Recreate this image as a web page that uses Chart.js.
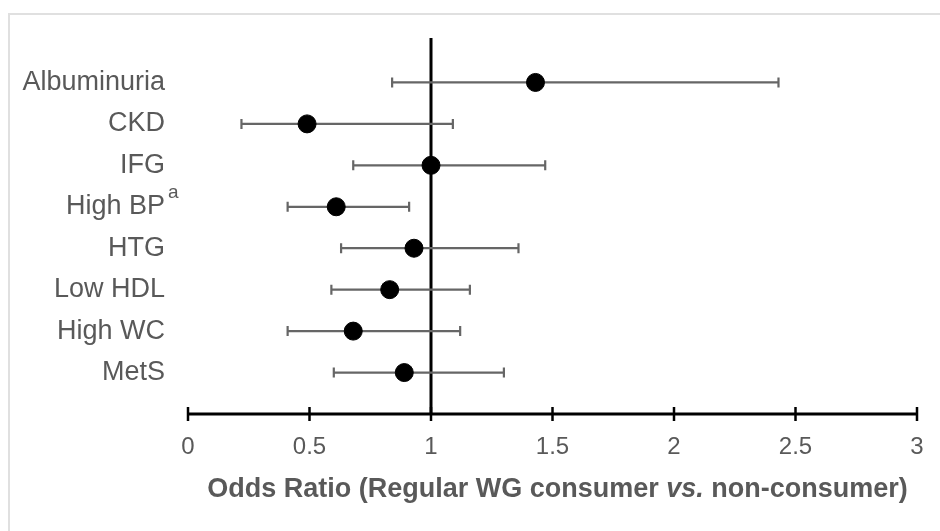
<!DOCTYPE html>
<html>
<head>
<meta charset="utf-8">
<script src="https://cdn.jsdelivr.net/npm/chart.js@4/dist/chart.umd.min.js"></script>
<style>
  body { margin: 0; background: #fff; }
  #wrap { position: relative; width: 940px; height: 531px; }
  #frame { position: absolute; left: 8px; top: 13px; right: 0; bottom: 0;
           border-top: 2px solid #e0e0e0; border-left: 2px solid #e0e0e0; }
  canvas { position: absolute; left: 0; top: 0; }
</style>
</head>
<body>
<div id="wrap">
  <div id="frame"></div>
  <canvas id="forest" width="940" height="531"></canvas>
</div>
<script>
// Outcomes, top to bottom
const outcomes = ['Albuminuria', 'CKD', 'IFG', 'High BP', 'HTG', 'Low HDL', 'High WC', 'MetS'];
// Odds ratios and 95% CI
const oddsRatio = [1.43, 0.49, 1.00, 0.61, 0.93, 0.83, 0.68, 0.89];
const ciLow     = [0.84, 0.22, 0.68, 0.41, 0.63, 0.59, 0.41, 0.60];
const ciHigh    = [2.43, 1.09, 1.47, 0.91, 1.36, 1.16, 1.12, 1.30];
const xTicks    = [0, 0.5, 1, 1.5, 2, 2.5, 3];

const textGray = '#595959';
const fontFamily = '"Liberation Sans", Arial, sans-serif';

// Error bars, reference line, axis with crossing ticks, superscript and axis title
const forestPlugin = {
    id: 'forestPlugin',
    beforeDatasetsDraw(chart) {
        const ctx = chart.ctx;
        const x = chart.scales.x, y = chart.scales.y;
        const area = chart.chartArea;
        ctx.save();

        // vertical line at OR = 1
        ctx.strokeStyle = '#000';
        ctx.lineWidth = 3;
        ctx.beginPath();
        ctx.moveTo(x.getPixelForValue(1), area.top - 3);
        ctx.lineTo(x.getPixelForValue(1), area.bottom);
        ctx.stroke();

        // confidence intervals
        ctx.strokeStyle = '#666';
        ctx.lineWidth = 2.2;
        outcomes.forEach((name, i) => {
            const py = y.getPixelForValue(i);
            const x1 = x.getPixelForValue(ciLow[i]);
            const x2 = x.getPixelForValue(ciHigh[i]);
            ctx.beginPath();
            ctx.moveTo(x1, py); ctx.lineTo(x2, py);
            ctx.moveTo(x1, py - 5); ctx.lineTo(x1, py + 5);
            ctx.moveTo(x2, py - 5); ctx.lineTo(x2, py + 5);
            ctx.stroke();
        });

        // x axis line with ticks crossing it
        const ay = area.bottom;
        ctx.strokeStyle = '#000';
        ctx.lineWidth = 3;
        ctx.beginPath();
        ctx.moveTo(x.getPixelForValue(xTicks[0]), ay);
        ctx.lineTo(x.getPixelForValue(xTicks[xTicks.length - 1]), ay);
        ctx.stroke();
        ctx.lineWidth = 2.5;
        xTicks.forEach(t => {
            const px = x.getPixelForValue(t);
            ctx.beginPath();
            ctx.moveTo(px, ay - 7);
            ctx.lineTo(px, ay + 7);
            ctx.stroke();
        });
        ctx.restore();
    },
    afterDraw(chart) {
        const ctx = chart.ctx;
        const y = chart.scales.y;
        const area = chart.chartArea;
        ctx.save();
        ctx.fillStyle = textGray;

        // superscript "a" after High BP
        const bpIndex = outcomes.indexOf('High BP');
        const labelRight = area.left - 23;
        ctx.font = '19px ' + fontFamily;
        ctx.textAlign = 'left';
        ctx.textBaseline = 'alphabetic';
        ctx.fillText('a', labelRight + 3, y.getPixelForValue(bpIndex) - 9);

        // axis title, with italic "vs."
        const parts = [
            { t: 'Odds Ratio (Regular WG consumer ', f: 'bold 27px ' + fontFamily },
            { t: 'vs.', f: 'italic bold 27px ' + fontFamily },
            { t: ' non-consumer)', f: 'bold 27px ' + fontFamily }
        ];
        let total = 0;
        parts.forEach(p => { ctx.font = p.f; p.w = ctx.measureText(p.t).width; total += p.w; });
        let cx = (area.left + area.right) / 2 + 5 - total / 2;
        const ty = 497;
        parts.forEach(p => {
            ctx.font = p.f;
            ctx.fillText(p.t, cx, ty);
            cx += p.w;
        });
        ctx.restore();
    }
};

const ctx = document.getElementById('forest').getContext('2d');
const forestChart = new Chart(ctx, {
    type: 'scatter',
    data: {
        datasets: [{
            data: oddsRatio.map((v, i) => ({ x: v, y: i })),
            backgroundColor: '#000',
            borderColor: '#000',
            pointRadius: 9,
            pointHoverRadius: 9
        }]
    },
    options: {
        responsive: false,
        animation: false,
        layout: { padding: { top: 41, right: 23, left: 0, bottom: 0 } },
        scales: {
            x: {
                type: 'linear',
                min: 0,
                max: 3,
                afterBuildTicks(scale) { scale.ticks = xTicks.map(v => ({ value: v })); },
                afterFit(scale) { scale.height = 117; },
                grid: { display: false },
                border: { display: false },
                ticks: {
                    padding: 11,
                    color: textGray,
                    font: { family: fontFamily, size: 24 },
                    callback: (v) => String(v)
                }
            },
            y: {
                type: 'linear',
                reverse: true,
                min: -1,
                max: 8,
                afterBuildTicks(scale) { scale.ticks = outcomes.map((n, i) => ({ value: i })); },
                afterFit(scale) { scale.width = 188; },
                grid: { display: false },
                border: { display: false },
                ticks: {
                    padding: 15,
                    color: textGray,
                    font: { family: fontFamily, size: 27 },
                    callback: (v) => outcomes[v] || ''
                }
            }
        },
        plugins: {
            legend: { display: false },
            tooltip: { enabled: false }
        }
    },
    plugins: [forestPlugin]
});
</script>
</body>
</html>
